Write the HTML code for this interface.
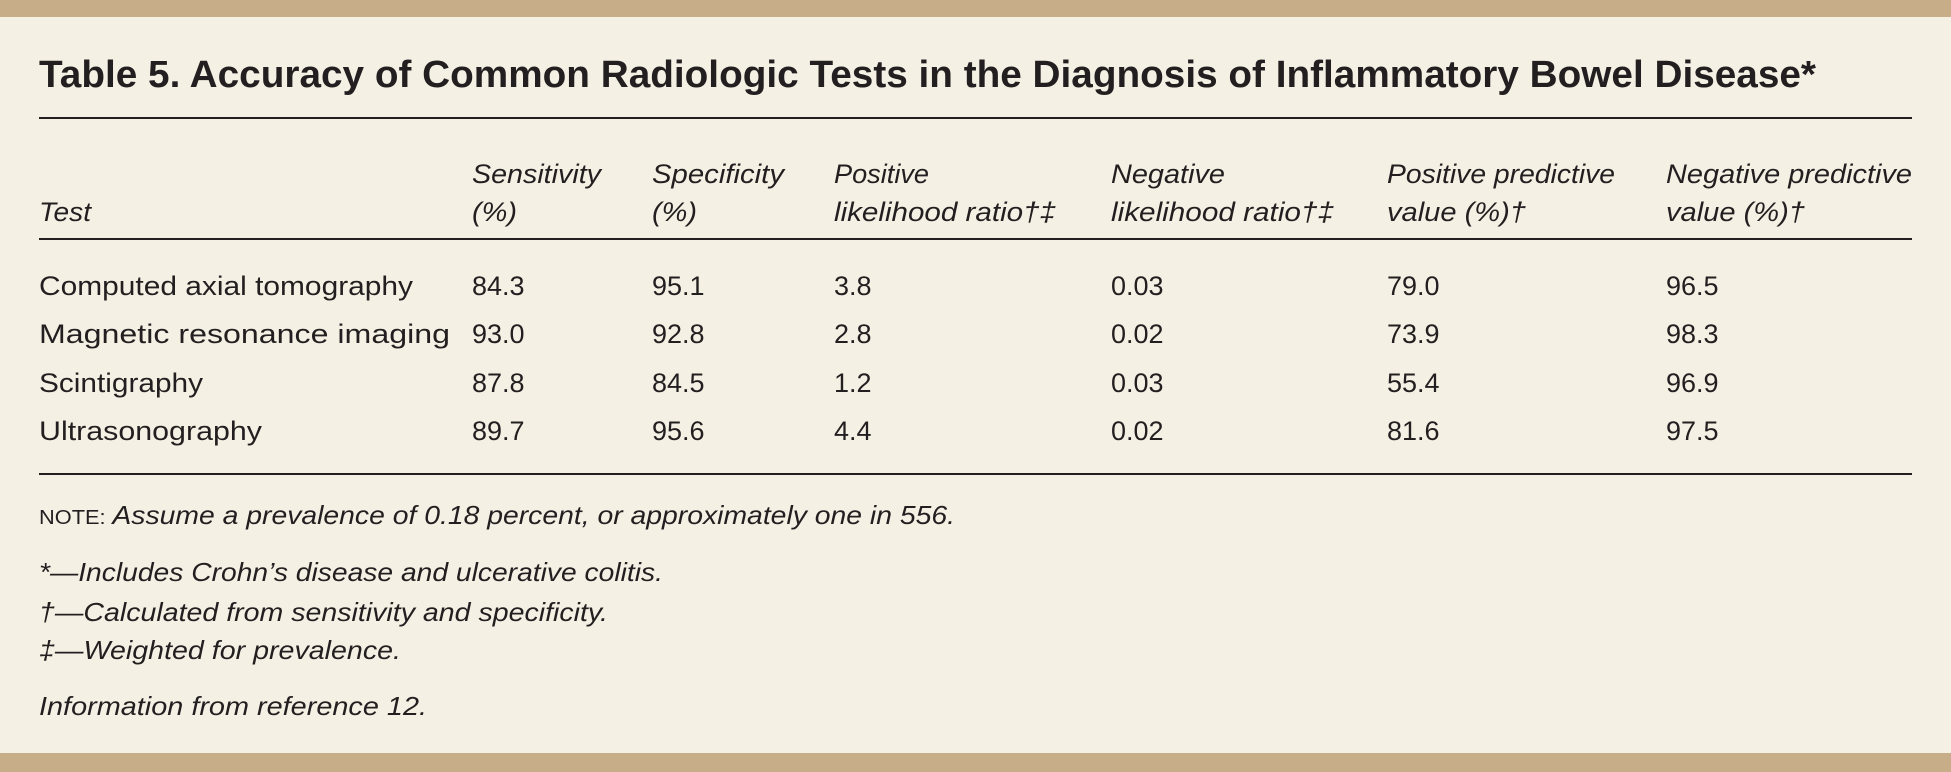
<!DOCTYPE html>
<html><head><meta charset="utf-8"><style>
html,body{margin:0;padding:0;background:#f5f0e4;}
svg{display:block}
text{font-family:"Liberation Sans",sans-serif;fill:#231f20;}
.i{font-style:italic}
</style></head><body>
<svg width="1951" height="772" viewBox="0 0 1951 772" xmlns="http://www.w3.org/2000/svg">
<rect x="0" y="0" width="1951" height="772" fill="#f5f0e4"/>
<rect x="0" y="0" width="1951" height="17" fill="#c8ae88"/>
<rect x="0" y="753" width="1951" height="19" fill="#c8ae88"/>
<text x="39" y="87" font-size="38" font-weight="bold" textLength="1777" lengthAdjust="spacingAndGlyphs">Table 5. Accuracy of Common Radiologic Tests in the Diagnosis of Inflammatory Bowel Disease*</text>
<rect x="39" y="117" width="1873" height="2" fill="#231f20"/>
<rect x="39" y="238" width="1873" height="2" fill="#231f20"/>
<rect x="39" y="473" width="1873" height="2" fill="#231f20"/>
<g font-size="27" class="i">
<text class="i" x="472" y="183" textLength="129" lengthAdjust="spacingAndGlyphs">Sensitivity</text>
<text class="i" x="652" y="183" textLength="132" lengthAdjust="spacingAndGlyphs">Specificity</text>
<text class="i" x="834" y="183" textLength="95" lengthAdjust="spacingAndGlyphs">Positive</text>
<text class="i" x="1111" y="183" textLength="114" lengthAdjust="spacingAndGlyphs">Negative</text>
<text class="i" x="1387" y="183" textLength="228" lengthAdjust="spacingAndGlyphs">Positive predictive</text>
<text class="i" x="1666" y="183" textLength="246" lengthAdjust="spacingAndGlyphs">Negative predictive</text>
<text class="i" x="39" y="221" textLength="52" lengthAdjust="spacingAndGlyphs">Test</text>
<text class="i" x="472" y="221" textLength="45" lengthAdjust="spacingAndGlyphs">(%)</text>
<text class="i" x="652" y="221" textLength="45" lengthAdjust="spacingAndGlyphs">(%)</text>
<text class="i" x="834" y="221" textLength="222" lengthAdjust="spacingAndGlyphs">likelihood ratio†‡</text>
<text class="i" x="1111" y="221" textLength="223" lengthAdjust="spacingAndGlyphs">likelihood ratio†‡</text>
<text class="i" x="1387" y="221" textLength="139" lengthAdjust="spacingAndGlyphs">value (%)†</text>
<text class="i" x="1666" y="221" textLength="139" lengthAdjust="spacingAndGlyphs">value (%)†</text>
</g>
<g font-size="27">
<text x="39" y="295" textLength="374" lengthAdjust="spacingAndGlyphs">Computed axial tomography</text>
<text x="39" y="343" textLength="411" lengthAdjust="spacingAndGlyphs">Magnetic resonance imaging</text>
<text x="39" y="392" textLength="164" lengthAdjust="spacingAndGlyphs">Scintigraphy</text>
<text x="39" y="440" textLength="223" lengthAdjust="spacingAndGlyphs">Ultrasonography</text>
<text x="472" y="295">84.3</text><text x="652" y="295">95.1</text><text x="834" y="295">3.8</text><text x="1111" y="295">0.03</text><text x="1387" y="295">79.0</text><text x="1666" y="295">96.5</text>
<text x="472" y="343">93.0</text><text x="652" y="343">92.8</text><text x="834" y="343">2.8</text><text x="1111" y="343">0.02</text><text x="1387" y="343">73.9</text><text x="1666" y="343">98.3</text>
<text x="472" y="392">87.8</text><text x="652" y="392">84.5</text><text x="834" y="392">1.2</text><text x="1111" y="392">0.03</text><text x="1387" y="392">55.4</text><text x="1666" y="392">96.9</text>
<text x="472" y="440">89.7</text><text x="652" y="440">95.6</text><text x="834" y="440">4.4</text><text x="1111" y="440">0.02</text><text x="1387" y="440">81.6</text><text x="1666" y="440">97.5</text>
</g>
<g font-size="26">
<text x="39" y="524" textLength="916" lengthAdjust="spacingAndGlyphs"><tspan font-size="20">NOTE:</tspan><tspan class="i"> Assume a prevalence of 0.18 percent, or approximately one in 556.</tspan></text>
<text class="i" x="39" y="581" textLength="624" lengthAdjust="spacingAndGlyphs">*—Includes Crohn’s disease and ulcerative colitis.</text>
<text class="i" x="39" y="621" textLength="569" lengthAdjust="spacingAndGlyphs">†—Calculated from sensitivity and specificity.</text>
<text class="i" x="39" y="659" textLength="362" lengthAdjust="spacingAndGlyphs">‡—Weighted for prevalence.</text>
<text class="i" x="39" y="715" textLength="388" lengthAdjust="spacingAndGlyphs">Information from reference 12.</text>
</g>
</svg>
</body></html>
